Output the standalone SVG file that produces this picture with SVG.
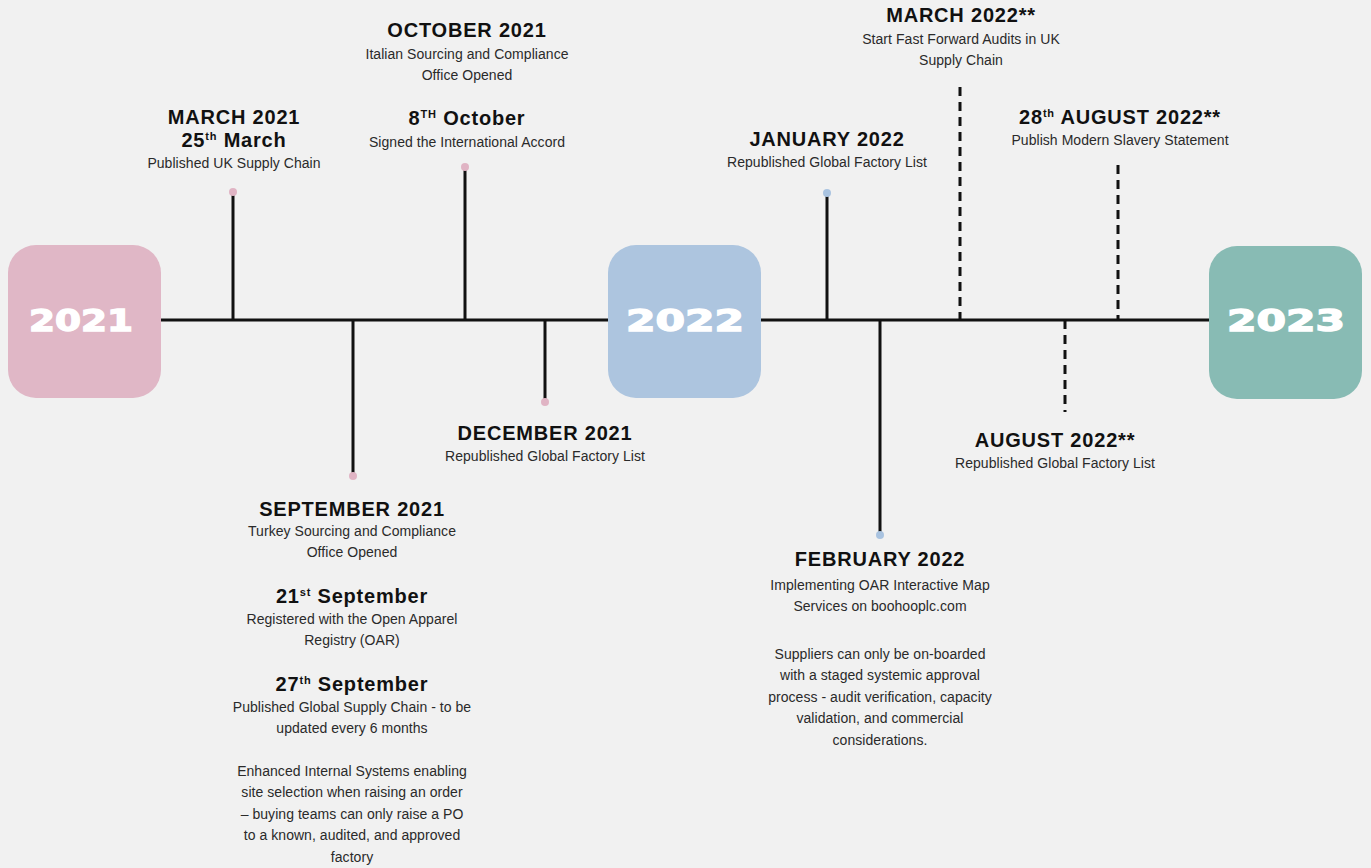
<svg xmlns="http://www.w3.org/2000/svg" width="1371" height="868" viewBox="0 0 1371 868">
<style>
.h{font-family:"Liberation Sans",Arial,sans-serif;font-weight:bold;font-size:20px;fill:#111;text-anchor:middle;letter-spacing:0.8px}
.b{font-family:"Liberation Sans",Arial,sans-serif;font-size:14px;fill:#2a2a2a;text-anchor:middle;letter-spacing:0.05px}
.yr{font-family:"DejaVu Sans",sans-serif;font-weight:bold;font-size:30px;fill:#fff;stroke:#fff;stroke-width:1.4;text-anchor:middle}
.stem{stroke:#111;stroke-width:3;fill:none}
.dash{stroke:#111;stroke-width:3;fill:none;stroke-dasharray:9 6}
.pk{fill:#e0b4c4}
.bl{fill:#a9c3e0}
</style>
<rect width="1371" height="868" fill="#f1f1f1"/>
<g id="connectors">
<line class="stem" x1="160" y1="320" x2="1210" y2="320"/>
<line class="stem" x1="233" y1="192" x2="233" y2="320"/>
<line class="stem" x1="353" y1="320" x2="353" y2="476"/>
<line class="stem" x1="465" y1="167" x2="465" y2="320"/>
<line class="stem" x1="545" y1="320" x2="545" y2="402"/>
<line class="stem" x1="827" y1="193" x2="827" y2="320"/>
<line class="stem" x1="880" y1="320" x2="880" y2="535"/>
<line class="dash" x1="960" y1="87" x2="960" y2="320"/>
<line class="dash" x1="1118" y1="165" x2="1118" y2="320"/>
<line class="dash" x1="1065" y1="320" x2="1065" y2="412"/>
<circle class="pk" cx="233" cy="192" r="4"/>
<circle class="pk" cx="353" cy="476" r="4"/>
<circle class="pk" cx="465" cy="167" r="4"/>
<circle class="pk" cx="545" cy="402" r="4"/>
<circle class="bl" cx="827" cy="193" r="4"/>
<circle class="bl" cx="880" cy="535" r="4"/>
</g>
<g id="y2021"><rect x="8" y="245" width="153" height="153" rx="28" fill="#e0b7c6"/><text class="yr" x="81" y="331" textLength="104" lengthAdjust="spacingAndGlyphs">2021</text></g>
<g id="y2022"><rect x="608" y="245" width="153" height="153" rx="28" fill="#adc5df"/><text class="yr" x="685" y="331" textLength="118" lengthAdjust="spacingAndGlyphs">2022</text></g>
<g id="y2023"><rect x="1209" y="246" width="153" height="153" rx="28" fill="#88bbb4"/><text class="yr" x="1286" y="331" textLength="118" lengthAdjust="spacingAndGlyphs">2023</text></g>
<g id="mar2021">
<text class="h" x="234" y="124">MARCH 2021</text>
<text class="h" x="234" y="147">25<tspan font-size="11" dy="-7">th</tspan><tspan dy="7"> March</tspan></text>
<text class="b" x="234" y="168">Published UK Supply Chain</text>
</g>
<g id="oct2021">
<text class="h" x="467" y="37">OCTOBER 2021</text>
<text class="b" x="467" y="59">Italian Sourcing and Compliance</text>
<text class="b" x="467" y="80">Office Opened</text>
<text class="h" x="467" y="125">8<tspan font-size="11" dy="-7">TH</tspan><tspan dy="7"> October</tspan></text>
<text class="b" x="467" y="147">Signed the International Accord</text>
</g>
<g id="sep2021">
<text class="h" x="352" y="516">SEPTEMBER 2021</text>
<text class="b" x="352" y="536">Turkey Sourcing and Compliance</text>
<text class="b" x="352" y="557">Office Opened</text>
<text class="h" x="352" y="603">21<tspan font-size="11" dy="-7">st</tspan><tspan dy="7"> September</tspan></text>
<text class="b" x="352" y="624">Registered with the Open Apparel</text>
<text class="b" x="352" y="645">Registry (OAR)</text>
<text class="h" x="352" y="691">27<tspan font-size="11" dy="-7">th</tspan><tspan dy="7"> September</tspan></text>
<text class="b" x="352" y="712">Published Global Supply Chain - to be</text>
<text class="b" x="352" y="733">updated every 6 months</text>
<text class="b" x="352" y="776">Enhanced Internal Systems enabling</text>
<text class="b" x="352" y="797">site selection when raising an order</text>
<text class="b" x="352" y="819">– buying teams can only raise a PO</text>
<text class="b" x="352" y="840">to a known, audited, and approved</text>
<text class="b" x="352" y="862">factory</text>
</g>
<g id="dec2021">
<text class="h" x="545" y="440">DECEMBER 2021</text>
<text class="b" x="545" y="461">Republished Global Factory List</text>
</g>
<g id="jan2022">
<text class="h" x="827" y="146">JANUARY 2022</text>
<text class="b" x="827" y="167">Republished Global Factory List</text>
</g>
<g id="feb2022">
<text class="h" x="880" y="566">FEBRUARY 2022</text>
<text class="b" x="880" y="590">Implementing OAR Interactive Map</text>
<text class="b" x="880" y="611">Services on boohooplc.com</text>
<text class="b" x="880" y="659">Suppliers can only be on-boarded</text>
<text class="b" x="880" y="680">with a staged systemic approval</text>
<text class="b" x="880" y="702">process - audit verification, capacity</text>
<text class="b" x="880" y="723">validation, and commercial</text>
<text class="b" x="880" y="745">considerations.</text>
</g>
<g id="mar2022">
<text class="h" x="961" y="22">MARCH 2022**</text>
<text class="b" x="961" y="44">Start Fast Forward Audits in UK</text>
<text class="b" x="961" y="65">Supply Chain</text>
</g>
<g id="aug28_2022">
<text class="h" x="1120" y="124">28<tspan font-size="11" dy="-7">th</tspan><tspan dy="7"> AUGUST 2022**</tspan></text>
<text class="b" x="1120" y="145">Publish Modern Slavery Statement</text>
</g>
<g id="aug2022">
<text class="h" x="1055" y="447">AUGUST 2022**</text>
<text class="b" x="1055" y="468">Republished Global Factory List</text>
</g>
</svg>
